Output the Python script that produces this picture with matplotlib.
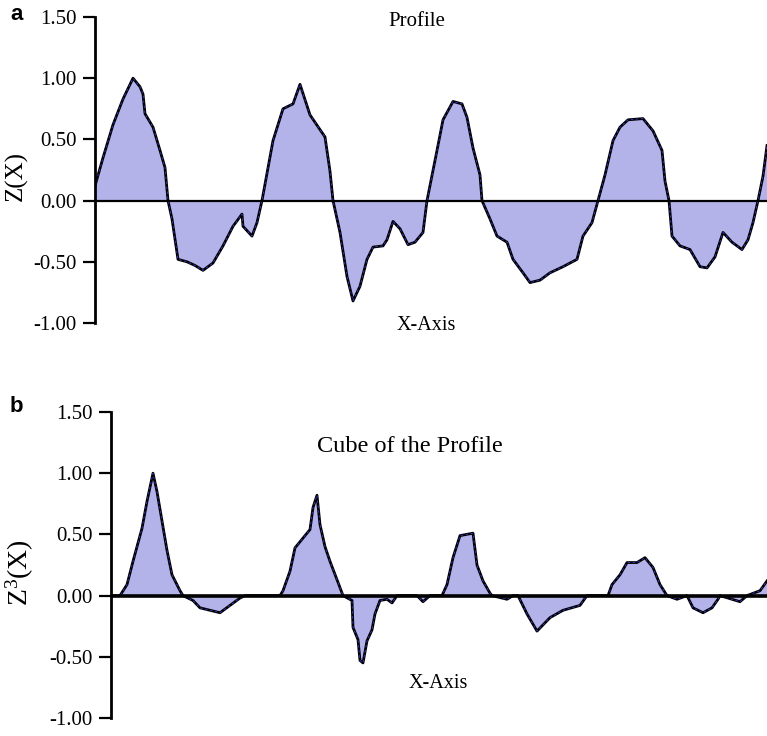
import numpy as np
import matplotlib
matplotlib.use('Agg')
import matplotlib.pyplot as plt

plt.rcParams['font.family'] = 'Liberation Serif'
plt.rcParams['mathtext.fontset'] = 'custom'
plt.rcParams['mathtext.rm'] = 'Liberation Serif'
plt.rcParams['mathtext.it'] = 'Liberation Serif'

# profile (panel a): position along the trace, Z(X)
xa = [0, 8, 18, 28, 38, 45, 48, 50, 58, 65, 70, 73, 77, 83, 92, 100, 108, 118,
      128, 138, 147, 148, 157, 162, 167, 178, 188, 198, 205, 215, 230, 235, 238,
      245, 252, 258, 265, 272, 278, 288, 292, 298, 305, 313, 320, 328, 332, 342,
      348, 358, 367, 372, 378, 385, 387, 395, 402, 412, 418, 428, 435, 445, 455,
      468, 482, 488, 497, 503, 510, 518, 525, 533, 548, 558, 567, 570, 574, 577,
      585, 595, 605, 612, 620, 628, 637, 647, 653, 658, 663, 668, 672]
za = [0.12, 0.35, 0.62, 0.83, 1.0, 0.93, 0.87, 0.71, 0.6, 0.41, 0.27, 0.0, -0.15,
      -0.48, -0.5, -0.53, -0.57, -0.51, -0.37, -0.21, -0.11, -0.21, -0.29, -0.18,
      0.0, 0.49, 0.75, 0.79, 0.95, 0.70, 0.52, 0.24, 0.0, -0.26, -0.62, -0.82,
      -0.70, -0.48, -0.38, -0.37, -0.32, -0.17, -0.23, -0.36, -0.34, -0.26, 0.0,
      0.41, 0.66, 0.81, 0.79, 0.68, 0.43, 0.21, 0.0, -0.15, -0.29, -0.34, -0.48,
      -0.59, -0.67, -0.65, -0.59, -0.54, -0.48, -0.29, -0.18, 0.0, 0.21, 0.49,
      0.6, 0.66, 0.67, 0.57, 0.41, 0.16, 0.0, -0.29, -0.37, -0.4, -0.54, -0.55,
      -0.46, -0.26, -0.34, -0.4, -0.32, -0.18, 0.0, 0.2, 0.45]

# cube of the profile (panel b)
xb = [0, 9, 16, 22, 31, 36, 42, 46, 51, 56, 61, 69, 72, 82, 89, 99, 109, 119,
      129, 134, 169, 172, 179, 184, 192, 199, 202, 206, 209, 214, 219, 226, 232,
      241, 242, 247, 249, 252, 256, 261, 264, 269, 276, 281, 286, 306, 312, 319,
      331, 336, 342, 349, 362, 366, 372, 379, 381, 396, 402, 407, 416, 426, 439,
      452, 469, 476, 497, 501, 509, 516, 526, 534, 542, 549, 556, 566, 576, 582,
      592, 601, 607, 609, 629, 636, 649, 656]
zb = [0.0, 0.0, 0.09, 0.28, 0.55, 0.77, 1.0, 0.85, 0.61, 0.37, 0.17, 0.04, 0.0,
      -0.04, -0.10, -0.12, -0.14, -0.08, -0.02, 0.0, 0.0, 0.04, 0.20, 0.39, 0.47,
      0.54, 0.72, 0.82, 0.58, 0.40, 0.28, 0.13, 0.0, -0.04, -0.26, -0.36, -0.53,
      -0.55, -0.37, -0.28, -0.15, -0.04, -0.03, -0.06, 0.0, 0.0, -0.05, 0.0, 0.0,
      0.09, 0.31, 0.49, 0.51, 0.25, 0.12, 0.02, 0.0, -0.03, 0.0, 0.0, -0.15,
      -0.29, -0.18, -0.12, -0.08, 0.0, 0.0, 0.09, 0.17, 0.27, 0.27, 0.31, 0.23,
      0.09, 0.0, -0.03, 0.0, -0.10, -0.14, -0.10, -0.03, 0.0, -0.05, 0.0, 0.04,
      0.12]

yticks = [-1.0, -0.5, 0.0, 0.5, 1.0, 1.5]
fill_col = '#b3b3ea'

W, H = 767, 736
fig = plt.figure(figsize=(W / 100, H / 100), dpi=100)

def panel(rect, x, z, zero_lw):
    ax = fig.add_axes(rect)
    ax.fill_between(x, 0, z, color=fill_col, lw=0)
    ax.plot(x, z, color='black', lw=2.0)
    ax.plot(x, z, color='#3a3ad6', lw=0.6, dashes=(3, 3))
    ax.axhline(0, color='black', lw=zero_lw)
    ax.set_xlim(0, max(x))
    ax.set_ylim(-1.0, 1.5)
    for s in ['top', 'right', 'bottom']:
        ax.spines[s].set_visible(False)
    ax.spines['left'].set_linewidth(2)
    ax.set_xticks([])
    ax.set_yticks(yticks)
    ax.set_yticklabels(['%.2f' % v for v in yticks])
    ax.tick_params(axis='y', direction='out', length=9, width=1.6, pad=4,
                   labelsize=15)
    ax.patch.set_alpha(0)
    return ax

# panel a
la, ra = 95, 767
ta, ba = 17, 323
panel([la / W, 1 - ba / H, (ra - la) / W, (ba - ta) / H], xa, za, 1.6)

# panel b
lb, rb = 111, 767
tb, bb = 412, 718
panel([lb / W, 1 - bb / H, (rb - lb) / W, (bb - tb) / H], xb, zb, 2.6)

fig.text(417 / W, 1 - 22 / H, 'Profile', ha='center', va='center', fontsize=15)
fig.text(426 / W, 1 - 325 / H, 'X-Axis', ha='center', va='center', fontsize=14.5)
fig.text(16 / W, 1 - 176 / H, 'Z(X)', ha='center', va='center', rotation=90,
         fontsize=18)
fig.text(410 / W, 1 - 446 / H, 'Cube of the Profile', ha='center', va='center',
         fontsize=17.5)
fig.text(438 / W, 1 - 683 / H, 'X-Axis', ha='center', va='center', fontsize=14.5)
fig.text(20 / W, 1 - 573 / H, r'Z$^{3}$(X)', ha='center', va='center',
         rotation=90, fontsize=20)

fig.text(17 / W, 1 - 15 / H, 'a', ha='center', va='center', fontsize=16,
         fontweight='bold', family='Liberation Sans')
fig.text(16 / W, 1 - 407 / H, 'b', ha='center', va='center', fontsize=16,
         fontweight='bold', family='Liberation Sans')

fig.savefig('out.png', dpi=100)
